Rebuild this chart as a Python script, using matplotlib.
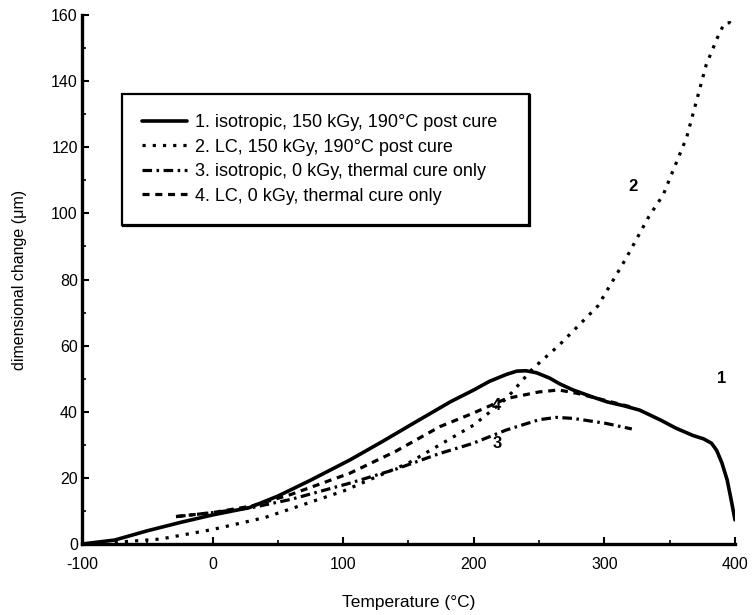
import matplotlib
matplotlib.use("Agg")
import matplotlib.pyplot as plt
from matplotlib.ticker import MultipleLocator

plt.rcParams['font.family'] = ['Liberation Sans', 'DejaVu Sans']
plt.rcParams['axes.unicode_minus'] = False

# Curve 1: isotropic, 150 kGy, 190°C post cure (solid)
x1 = [-100, -75, -50, -25, 0, 28, 50, 75, 105, 130, 155, 182, 200, 212, 225, 233,
      240, 248, 258, 266, 276, 290, 302, 315, 327, 343, 355, 368, 376, 382, 386,
      390, 394, 397, 400]
y1 = [0, 1.2, 4, 6.5, 8.8, 11, 14.5, 19.3, 25.4, 31, 36.8, 43, 46.6, 49.2, 51.3, 52.3,
      52.4, 51.8, 50.2, 48.4, 46.6, 44.6, 43, 41.8, 40.5, 37.5, 35, 32.8, 31.8, 30.5, 28.3,
      24.5, 19.4, 13.5, 7.3]

# Curve 2: LC, 150 kGy, 190°C post cure (dotted)
x2 = [-75, -40, 0, 40, 100, 150, 200, 225, 245, 265, 295, 316, 334, 345, 363,
      378, 388, 392, 396, 400]
y2 = [0.5, 1.5, 4.4, 8, 16, 24.5, 36, 44, 53, 60, 72, 86, 99, 105.6, 123,
      145, 154.5, 157.5, 157.7, 156.5]

# Curve 3: isotropic, 0 kGy, thermal cure only (dash-dot)
x3 = [-28, 0, 30, 60, 105, 140, 174, 199, 225, 250, 263, 276, 301, 321]
y3 = [8.3, 9.5, 11, 13.5, 18.4, 22.6, 27.4, 30.4, 34.5, 37.6, 38.3, 38, 36.5, 34.8]

# Curve 4: LC, 0 kGy, thermal cure only (dashed)
x4 = [-28, 0, 30, 60, 105, 140, 174, 199, 225, 250, 265, 280, 300, 320]
y4 = [8.3, 9.5, 11.5, 15, 21.4, 28, 35.5, 39.5, 44, 46, 46.6, 45.5, 43.5, 41.5]

labels = ["1. isotropic, 150 kGy, 190\u00b0C post cure",
          "2. LC, 150 kGy, 190\u00b0C post cure",
          "3. isotropic, 0 kGy, thermal cure only",
          "4. LC, 0 kGy, thermal cure only"]

curve_tags = ["1", "2", "3", "4"]
tag_x = [390, 322, 217.6, 217.6]
tag_y = [50, 108, 30.5, 42]

fig = plt.figure(figsize=(7.55, 6.15), dpi=100)
ax = fig.add_axes([0.1086, 0.1154, 0.8649, 0.8602])

ax.plot(x1, y1, color='black', lw=2.6, solid_capstyle='round',
        solid_joinstyle='round', label=labels[0])
ax.plot(x2, y2, color='black', lw=2.3, dashes=(1, 2.2), label=labels[1])
ax.plot(x3, y3, color='black', lw=2.3, dashes=(3, 1.4, 0.8, 1.4), label=labels[2])
ax.plot(x4, y4, color='black', lw=2.3, dashes=(2.2, 1.8), label=labels[3])

for t, tx, ty in zip(curve_tags, tag_x, tag_y):
    ax.text(tx, ty, t, ha='center', va='center', fontsize=12, fontweight='bold')

ax.set_xlim(-100, 400)
ax.set_ylim(0, 160)
ax.xaxis.set_major_locator(MultipleLocator(100))
ax.xaxis.set_minor_locator(MultipleLocator(50))
ax.yaxis.set_major_locator(MultipleLocator(20))
ax.yaxis.set_minor_locator(MultipleLocator(10))

for s in ['top', 'right']:
    ax.spines[s].set_visible(False)
for s in ['left', 'bottom']:
    ax.spines[s].set_linewidth(2.4)

ax.tick_params(which='major', direction='in', length=5, width=1.5, labelsize=11.5, pad=3)
ax.tick_params(which='minor', direction='in', length=3, width=1.2)
ax.tick_params(axis='x', pad=9)

ax.set_xlabel("Temperature (\u00b0C)", fontsize=12.5, labelpad=17)
ax.set_ylabel("dimensional change (\u03bcm)", fontsize=11.5, labelpad=17)

leg = ax.legend(loc='upper left', bbox_to_anchor=(0.061, 0.609, 0.624, 0.242),
                mode='expand', borderaxespad=0, fontsize=13, frameon=True,
                fancybox=False, edgecolor='black', handlelength=2.5,
                handletextpad=0.45, labelspacing=0.42, borderpad=1.12,
                shadow={'color': 'black', 'alpha': 1, 'ox': 0.8, 'oy': -0.8})
leg.get_frame().set_linewidth(1.6)

fig.savefig("out.png", dpi=100)
